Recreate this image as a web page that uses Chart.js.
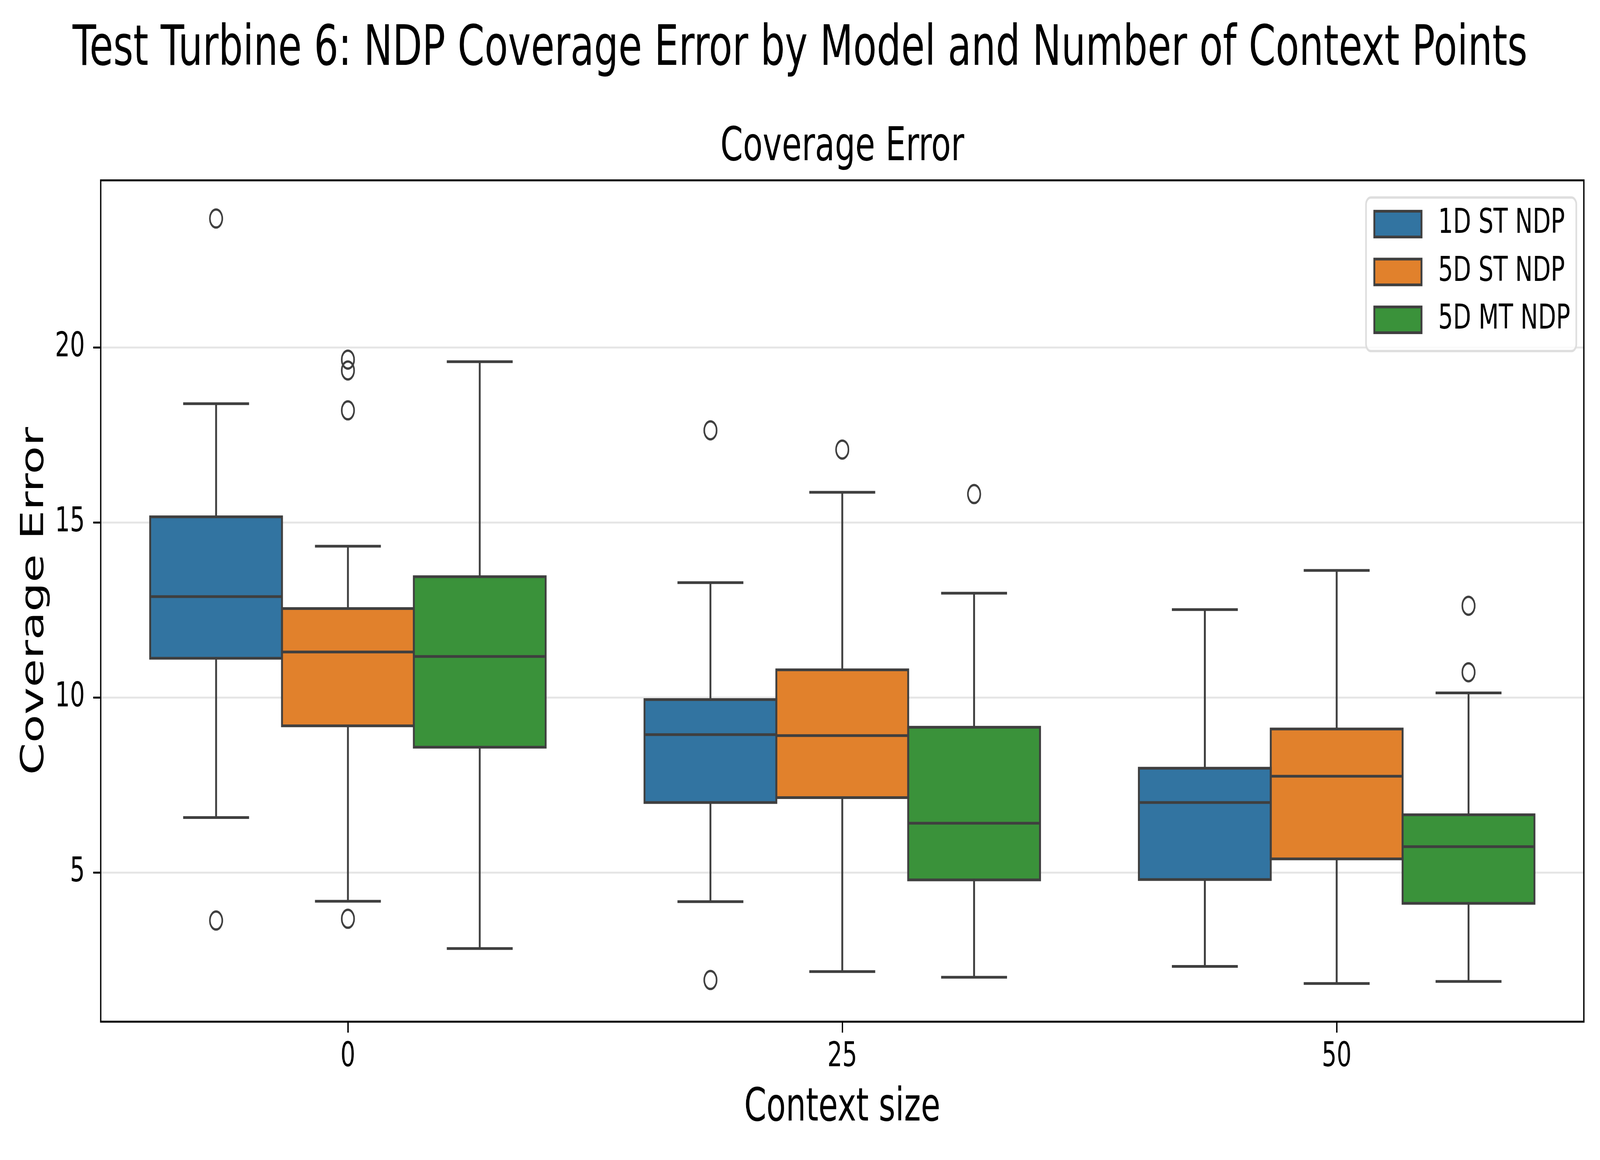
<!DOCTYPE html>
<html>
<head>
<meta charset="utf-8">
<script src="https://cdn.jsdelivr.net/npm/chart.js@4.4.1/dist/chart.umd.min.js"></script>
<style>
  html, body { margin: 0; padding: 0; background: #fff; overflow: hidden; }
  canvas { display: block; }
</style>
</head>
<body>
<canvas id="boxChart" width="5942" height="2969" style="width: 100vw; height: 100vh;"></canvas>
<script>
const contextSizes = ['0', '25', '50'];
const models = ['1D ST NDP', '5D ST NDP', '5D MT NDP'];

// one row per model, one column per context size
const whiskerLow  = [[6.57, 4.17, 2.32], [4.18, 2.17, 1.83], [2.83, 2.01, 1.89]];
const q1          = [[11.12, 7.00, 4.80], [9.19, 7.14, 5.39], [8.58, 4.79, 4.12]];
const median      = [[12.88, 8.94, 7.00], [11.30, 8.91, 7.75], [11.17, 6.41, 5.74]];
const q3          = [[15.16, 9.94, 7.98], [12.54, 10.79, 9.10], [13.45, 9.15, 6.65]];
const whiskerHigh = [[18.39, 13.28, 12.51], [14.32, 15.86, 13.63], [19.59, 12.98, 10.13]];
const outliers = [
  [[23.68, 3.63], [17.63, 1.93], []],
  [[19.65, 19.34, 18.20, 3.68], [17.08], []],
  [[], [15.81], [12.62, 10.72]]
];
const yTicks = [5, 10, 15, 20];

const colors = ['#3274a1', '#e1812c', '#3a923a'];
const edgeColor = '#3f3f3f';
const fontFamily = 'DejaVu Sans';

const boxParts = {
  id: 'boxParts',
  beforeDraw(chart) {
    const ctx = chart.ctx;
    ctx.save();
    ctx.fillStyle = '#fff';
    ctx.fillRect(0, 0, chart.width, chart.height);
    ctx.restore();
  },
  beforeDatasetsDraw(chart) {
    const ctx = chart.ctx, y = chart.scales.y;
    ctx.save();
    ctx.strokeStyle = edgeColor;
    ctx.lineWidth = 7;
    chart.data.datasets.forEach((ds, i) => {
      chart.getDatasetMeta(i).data.forEach((bar, j) => {
        const {x, width} = bar.getProps(['x', 'width'], true);
        const cap = width / 4;
        [[q1[i][j], whiskerLow[i][j]], [q3[i][j], whiskerHigh[i][j]]].forEach(([from, to]) => {
          const yt = y.getPixelForValue(to);
          ctx.beginPath();
          ctx.moveTo(x, y.getPixelForValue(from));
          ctx.lineTo(x, yt);
          ctx.moveTo(x - cap, yt);
          ctx.lineTo(x + cap, yt);
          ctx.stroke();
        });
      });
    });
    ctx.restore();
  },
  afterDatasetsDraw(chart) {
    const ctx = chart.ctx, y = chart.scales.y;
    ctx.save();
    ctx.strokeStyle = edgeColor;
    chart.data.datasets.forEach((ds, i) => {
      chart.getDatasetMeta(i).data.forEach((bar, j) => {
        const {x, width} = bar.getProps(['x', 'width'], true);
        const top = y.getPixelForValue(q3[i][j]);
        const bottom = y.getPixelForValue(q1[i][j]);
        ctx.lineWidth = 7;
        ctx.strokeRect(x - width / 2, top, width, bottom - top);
        const ym = y.getPixelForValue(median[i][j]);
        ctx.beginPath();
        ctx.moveTo(x - width / 2, ym);
        ctx.lineTo(x + width / 2, ym);
        ctx.stroke();
        ctx.lineWidth = 6;
        outliers[i][j].forEach(v => {
          ctx.beginPath();
          ctx.arc(x, y.getPixelForValue(v), 23, 0, Math.PI * 2);
          ctx.stroke();
        });
      });
    });
    ctx.restore();
  },
  afterDraw(chart) {
    const ctx = chart.ctx, a = chart.chartArea;
    ctx.save();
    // axes frame
    ctx.strokeStyle = '#000';
    ctx.lineWidth = 5;
    ctx.strokeRect(a.left, a.top, a.right - a.left, a.bottom - a.top);
    // legend
    const lx = a.right - 809, ly = a.top + 44, lw = 781, lh = 393;
    ctx.beginPath();
    ctx.roundRect(lx, ly, lw, lh, 18);
    ctx.fillStyle = 'rgba(255,255,255,0.8)';
    ctx.fill();
    ctx.strokeStyle = '#dedede';
    ctx.lineWidth = 6;
    ctx.stroke();
    ctx.font = '87px "' + fontFamily + '"';
    ctx.textBaseline = 'middle';
    chart.data.datasets.forEach((ds, i) => {
      const cy = ly + 68 + i * 122.5;
      ctx.fillStyle = ds.backgroundColor;
      ctx.fillRect(lx + 31, cy - 33, 175, 66);
      ctx.strokeStyle = edgeColor;
      ctx.lineWidth = 7;
      ctx.strokeRect(lx + 31, cy - 33, 175, 66);
      ctx.fillStyle = '#000';
      ctx.fillText(ds.label, lx + 268, cy);
    });
    ctx.restore();
  }
};

new Chart(document.getElementById('boxChart'), {
  type: 'bar',
  data: {
    labels: contextSizes,
    datasets: models.map((m, i) => ({
      label: m,
      data: contextSizes.map((c, j) => [q1[i][j], q3[i][j]]),
      backgroundColor: colors[i],
      borderWidth: 0,
      categoryPercentage: 0.8,
      barPercentage: 1.0
    }))
  },
  options: {
    responsive: false,
    devicePixelRatio: 1,
    animation: false,
    layout: { padding: { left: 60, right: 60, top: 0, bottom: 0 } },
    plugins: {
      legend: { display: false },
      tooltip: { enabled: false },
      title: {
        display: true,
        text: 'Test Turbine 6: NDP Coverage Error by Model and Number of Context Points',
        color: '#000',
        font: { family: fontFamily, size: 143, weight: 'normal', lineHeight: 1.2 },
        padding: { top: 43, bottom: 0 }
      },
      subtitle: {
        display: true,
        text: 'Coverage Error',
        fullSize: false,
        color: '#000',
        font: { family: fontFamily, size: 120, weight: 'normal', lineHeight: 1.2 },
        padding: { top: 92, bottom: 11 }
      }
    },
    scales: {
      x: {
        grid: { offset: false, drawOnChartArea: false, drawTicks: true, tickLength: 28, tickColor: '#000', tickWidth: 5 },
        border: { display: false },
        ticks: { color: '#000', font: { family: fontFamily, size: 87 }, padding: 11, maxRotation: 0 },
        title: {
          display: true, text: 'Context size', color: '#000',
          font: { family: fontFamily, size: 118, lineHeight: 1.2 },
          padding: { top: 0, bottom: 61 }
        },
        afterFit(s) { s.height = 354; }
      },
      y: {
        min: 0.74,
        max: 24.77,
        afterBuildTicks(s) { s.ticks = yTicks.map(v => ({ value: v })); },
        grid: { color: '#e6e6e6', lineWidth: 5, tickColor: '#000', tickWidth: 5, tickLength: 28 },
        border: { display: false },
        ticks: { color: '#000', font: { family: fontFamily, size: 87 }, padding: 31 },
        title: {
          display: true, text: 'Coverage Error', color: '#000',
          font: { family: fontFamily, size: 118, lineHeight: 1 },
          padding: { top: 10, bottom: 0 }
        },
        afterFit(s) { s.width = 314; }
      }
    }
  },
  plugins: [boxParts]
});
</script>
</body>
</html>
